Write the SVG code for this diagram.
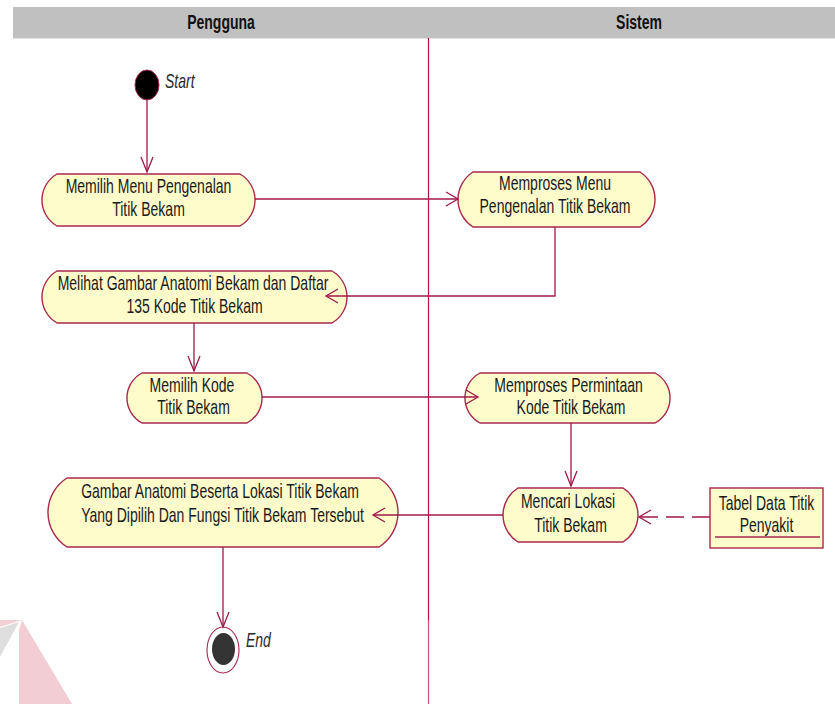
<svg xmlns="http://www.w3.org/2000/svg" width="835" height="704" viewBox="0 0 835 704">
  <style>
    .act { fill: #fffccb; stroke: #a8284f; stroke-width: 1.4; }
    .t { font-family: "Liberation Sans", Arial, sans-serif; font-size: 14px; fill: #1a1a1a; text-anchor: middle; }
    .lbl { font-family: "Liberation Sans", Arial, sans-serif; font-size: 14px; font-style: italic; fill: #2a2a2a; }
    .hdr { font-family: "Liberation Sans", Arial, sans-serif; font-size: 14px; font-weight: bold; fill: #111; text-anchor: middle; }
    .flow { fill: none; stroke: #a0184a; stroke-width: 1.3; }
    .dash { stroke-dasharray: 18 8; }
  </style>
  <defs>
    <marker id="arrH" markerUnits="userSpaceOnUse" markerWidth="16" markerHeight="18" refX="0" refY="0" viewBox="-14 -8 16 16" orient="auto">
      <path d="M-12,-7 L0,0 L-12,7" fill="none" stroke="#a0184a" stroke-width="1.3"/>
    </marker>
    <marker id="arrV" markerUnits="userSpaceOnUse" markerWidth="18" markerHeight="16" refX="0" refY="0" viewBox="-16 -8 18 16" orient="auto">
      <path d="M-15,-6 L0,0 L-15,6" fill="none" stroke="#a0184a" stroke-width="1.3"/>
    </marker>
  </defs>

  <rect width="835" height="704" fill="#ffffff"/>

  <!-- faint logo mark in the lower-left corner -->
  <g id="logo-mark">
    <polygon points="0,620 22,620 0,627" fill="#f3d0d6"/>
    <polygon points="22,620 72,704 19,704 19,630" fill="#f2cdd3"/>
    <polygon points="0,628 19,622 0,657" fill="#dedede"/>
  </g>

  <!-- swimlane header and divider -->
  <g id="lanes">
    <rect x="13" y="7" width="822" height="31" fill="#c0c0c0"/>
    <line x1="13" y1="38.5" x2="835" y2="38.5" stroke="#e2e2e2" stroke-width="1"/>
    <text class="hdr" transform="translate(221,29) scale(1,1.42)">Pengguna</text>
    <text class="hdr" transform="translate(639,29) scale(1,1.42)">Sistem</text>
    <line x1="428.5" y1="38" x2="428.5" y2="620" stroke="#b0134a" stroke-width="1.2"/>
    <line x1="428.5" y1="620" x2="428.5" y2="704" stroke="#cf4b74" stroke-width="1.2"/>
  </g>

  <!-- initial state -->
  <g id="start">
    <ellipse cx="147" cy="85" rx="12" ry="15" fill="#000" stroke="#a8284f" stroke-width="1"/>
    <text class="lbl" transform="translate(165,88) scale(1,1.42)">Start</text>
  </g>

  <g id="memilih-menu">
    <path class="act" d="M57,174 H240 A30,30 0 0 1 240,226 H57 A30,30 0 0 1 57,174 Z"/>
    <text class="t" transform="translate(148.5,193) scale(1,1.42)">Memilih Menu Pengenalan</text>
    <text class="t" transform="translate(148.5,216) scale(1,1.42)">Titik Bekam</text>
  </g>

  <g id="memproses-menu">
    <path class="act" d="M473,172 H640 A32.7,32.7 0 0 1 640,227 H473 A32.7,32.7 0 0 1 473,172 Z"/>
    <text class="t" transform="translate(555,190) scale(1,1.42)">Memproses Menu</text>
    <text class="t" transform="translate(555,213) scale(1,1.42)">Pengenalan Titik Bekam</text>
  </g>

  <g id="melihat-gambar">
    <path class="act" d="M57,271 H332 A30,30 0 0 1 332,323 H57 A30,30 0 0 1 57,271 Z"/>
    <text class="t" transform="translate(193,290) scale(1,1.42)">Melihat Gambar Anatomi Bekam dan Daftar</text>
    <text class="t" transform="translate(194.5,313) scale(1,1.42)">135 Kode Titik Bekam</text>
  </g>

  <g id="memilih-kode">
    <path class="act" d="M142,373 H247 A28.3,28.3 0 0 1 247,423 H142 A28.3,28.3 0 0 1 142,373 Z"/>
    <text class="t" transform="translate(192,392) scale(1,1.42)">Memilih Kode</text>
    <text class="t" transform="translate(193.5,414) scale(1,1.42)">Titik Bekam</text>
  </g>

  <g id="memproses-permintaan">
    <path class="act" d="M480,373 H655 A28.3,28.3 0 0 1 655,423 H480 A28.3,28.3 0 0 1 480,373 Z"/>
    <text class="t" transform="translate(568.5,392) scale(1,1.42)">Memproses Permintaan</text>
    <text class="t" transform="translate(571,414) scale(1,1.42)">Kode Titik Bekam</text>
  </g>

  <g id="mencari-lokasi">
    <path class="act" d="M518,488 H623 A31.8,31.8 0 0 1 623,542 H518 A31.8,31.8 0 0 1 518,488 Z"/>
    <text class="t" transform="translate(568,508) scale(1,1.42)">Mencari Lokasi</text>
    <text class="t" transform="translate(570.5,532) scale(1,1.42)">Titik Bekam</text>
  </g>

  <g id="gambar-anatomi">
    <path class="act" d="M67,478 H379 A40.8,40.8 0 0 1 379,547 H67 A40.8,40.8 0 0 1 67,478 Z"/>
    <text class="t" transform="translate(220,498) scale(1,1.42)">Gambar Anatomi Beserta Lokasi Titik Bekam</text>
    <text class="t" transform="translate(222.5,522) scale(1,1.42)">Yang Dipilih Dan Fungsi Titik Bekam Tersebut</text>
  </g>

  <g id="tabel-data">
    <rect class="act" x="710" y="488" width="113" height="60"/>
    <text class="t" transform="translate(766.5,510) scale(1,1.42)">Tabel Data Titik</text>
    <text class="t" transform="translate(766.5,532) scale(1,1.42)">Penyakit</text>
    <line x1="715" y1="537" x2="820" y2="537" stroke="#a8284f" stroke-width="1.3"/>
  </g>

  <!-- final state -->
  <g id="end">
    <ellipse cx="223" cy="650" rx="16" ry="23" fill="#fff" stroke="#a8284f" stroke-width="1.1"/>
    <ellipse cx="223.5" cy="649" rx="11.5" ry="16" fill="#333"/>
    <text class="lbl" transform="translate(246,647) scale(1,1.42)">End</text>
  </g>

  <!-- control flows -->
  <g id="connectors">
    <path class="flow" d="M147,100 L147,172" marker-end="url(#arrV)"/>
    <path class="flow" d="M255,199 L458,199" marker-end="url(#arrH)"/>
    <path class="flow" d="M555,227 L555,296 L326,296" marker-end="url(#arrH)"/>
    <path class="flow" d="M194,323 L194,371" marker-end="url(#arrV)"/>
    <path class="flow" d="M262,397 L478,397" marker-end="url(#arrH)"/>
    <path class="flow" d="M571,423 L571,486" marker-end="url(#arrV)"/>
    <path class="flow" d="M503,515 L373,515" marker-end="url(#arrH)"/>
    <path class="flow dash" d="M710,517 L639,517" marker-end="url(#arrH)"/>
    <path class="flow" d="M223,547 L223,627" marker-end="url(#arrV)"/>
  </g>
</svg>
